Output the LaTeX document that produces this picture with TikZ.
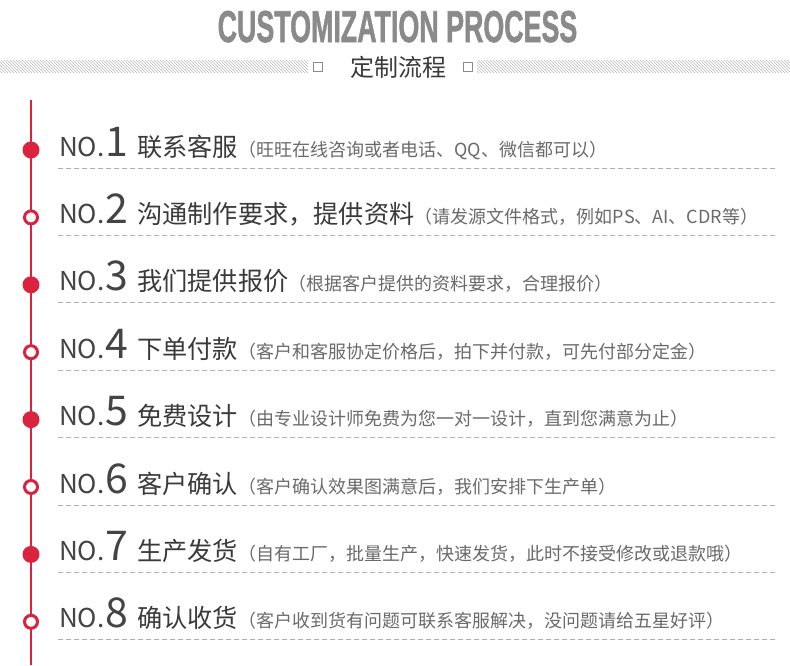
\documentclass[tikz,border=0pt]{standalone}
\usepackage{fontspec}
\usepackage{graphicx}
\usepackage{tikz}
\usetikzlibrary{positioning,patterns}
\newfontfamily\cjk{Noto Sans CJK SC}
\newfontfamily\titlefont[FakeBold=1.5]{Liberation Sans Bold}
\definecolor{stepred}{HTML}{D9233F}
\definecolor{headgray}{HTML}{8A8A8A}
\definecolor{notext}{HTML}{444444}
\definecolor{maintext}{HTML}{3A3A3A}
\definecolor{subtext}{HTML}{6A6A6A}
\definecolor{rulegray}{HTML}{B0B0B0}
\tikzset{
    notag/.style={anchor=base west, inner sep=0pt, text=notext, font=\cjk\fontsize{26}{26}\selectfont},
    numtag/.style={inner sep=0pt, text=notext, font=\cjk\fontsize{41}{41}\selectfont},
    steptitle/.style={anchor=base west, inner sep=0pt, text=maintext, font=\cjk\fontsize{25.2}{26}\selectfont},
    stepnote/.style={inner sep=0pt, text=subtext, font=\cjk\fontsize{18}{18}\selectfont},
    dotfull/.style={circle, fill=stepred, minimum size=17pt, inner sep=0pt},
    dotring/.style={circle, draw=stepred, line width=3pt, fill=white, minimum size=13pt, inner sep=0pt},
    sqbox/.style={draw=headgray, fill=white, line width=0.8pt, minimum size=9pt, inner sep=0pt},
    sepline/.style={rulegray, dash pattern=on 5pt off 3pt, line width=0.8pt},
}

\begin{document}
\begin{tikzpicture}[x=1pt, y=-1pt]
    \useasboundingbox[fill=white] (0,0) rectangle (790,665);

    % Heading
    \node[anchor=base, inner sep=0pt, text=headgray, font=\titlefont\fontsize{44.7}{45}\selectfont] (head) at (397.5,42) {\scalebox{0.6}[1]{CUSTOMIZATION PROCESS}};
    \fill[pattern=north west lines, pattern color=gray!55] (0,60) rectangle (308,72);
    \fill[pattern=north west lines, pattern color=gray!55] (477,60) rectangle (790,72);
    \node[sqbox] (sqleft) at (318,67) {};
    \node[inner sep=0pt, text=maintext, font=\cjk\fontsize{24}{24}\selectfont] (sub) at (398,67) {定制流程};
    \node[sqbox] (sqright) at (468,67) {};

    % Timeline
    \draw[stepred, line width=1.5pt] (31,100) -- (31,665);

    % Step 1
    \node[dotfull] (m1) at (31,150) {};
    \node[notag] (no1) at (59,156) {NO.};
    \node[numtag, base right=1pt of no1] (n1) {1};
    \node[steptitle] (t1) at (137,156) {联系客服};
    \node[stepnote, base right=0pt of t1] (p1) {（旺旺在线咨询或者电话、QQ、微信都可以）};
    \draw[sepline] (58,168) -- (777,168);

    % Step 2
    \node[dotring] (m2) at (31,217.4) {};
    \node[notag] (no2) at (59,223.4) {NO.};
    \node[numtag, base right=1pt of no2] (n2) {2};
    \node[steptitle] (t2) at (137,223.4) {沟通制作要求，提供资料};
    \node[stepnote, base right=0pt of t2] (p2) {（请发源文件格式，例如PS、AI、CDR等）};
    \draw[sepline] (58,235.4) -- (777,235.4);

    % Step 3
    \node[dotfull] (m3) at (31,284.8) {};
    \node[notag] (no3) at (59,290.8) {NO.};
    \node[numtag, base right=1pt of no3] (n3) {3};
    \node[steptitle] (t3) at (137,290.8) {我们提供报价};
    \node[stepnote, base right=0pt of t3] (p3) {（根据客户提供的资料要求，合理报价）};
    \draw[sepline] (58,302.8) -- (777,302.8);

    % Step 4
    \node[dotring] (m4) at (31,352.2) {};
    \node[notag] (no4) at (59,358.2) {NO.};
    \node[numtag, base right=1pt of no4] (n4) {4};
    \node[steptitle] (t4) at (137,358.2) {下单付款};
    \node[stepnote, base right=0pt of t4] (p4) {（客户和客服协定价格后，拍下并付款，可先付部分定金）};
    \draw[sepline] (58,370.2) -- (777,370.2);

    % Step 5
    \node[dotfull] (m5) at (31,419.6) {};
    \node[notag] (no5) at (59,425.6) {NO.};
    \node[numtag, base right=1pt of no5] (n5) {5};
    \node[steptitle] (t5) at (137,425.6) {免费设计};
    \node[stepnote, base right=0pt of t5] (p5) {（由专业设计师免费为您一对一设计，直到您满意为止）};
    \draw[sepline] (58,437.6) -- (777,437.6);

    % Step 6
    \node[dotring] (m6) at (31,487) {};
    \node[notag] (no6) at (59,493) {NO.};
    \node[numtag, base right=1pt of no6] (n6) {6};
    \node[steptitle] (t6) at (137,493) {客户确认};
    \node[stepnote, base right=0pt of t6] (p6) {（客户确认效果图满意后，我们安排下生产单）};
    \draw[sepline] (58,505) -- (777,505);

    % Step 7
    \node[dotfull] (m7) at (31,554.4) {};
    \node[notag] (no7) at (59,560.4) {NO.};
    \node[numtag, base right=1pt of no7] (n7) {7};
    \node[steptitle] (t7) at (137,560.4) {生产发货};
    \node[stepnote, base right=0pt of t7] (p7) {（自有工厂，批量生产，快速发货，此时不接受修改或退款哦）};
    \draw[sepline] (58,572.4) -- (777,572.4);

    % Step 8
    \node[dotring] (m8) at (31,621.8) {};
    \node[notag] (no8) at (59,627.8) {NO.};
    \node[numtag, base right=1pt of no8] (n8) {8};
    \node[steptitle] (t8) at (137,627.8) {确认收货};
    \node[stepnote, base right=0pt of t8] (p8) {（客户收到货有问题可联系客服解决，没问题请给五星好评）};
    \draw[sepline] (58,639.8) -- (777,639.8);
\end{tikzpicture}
\end{document}
